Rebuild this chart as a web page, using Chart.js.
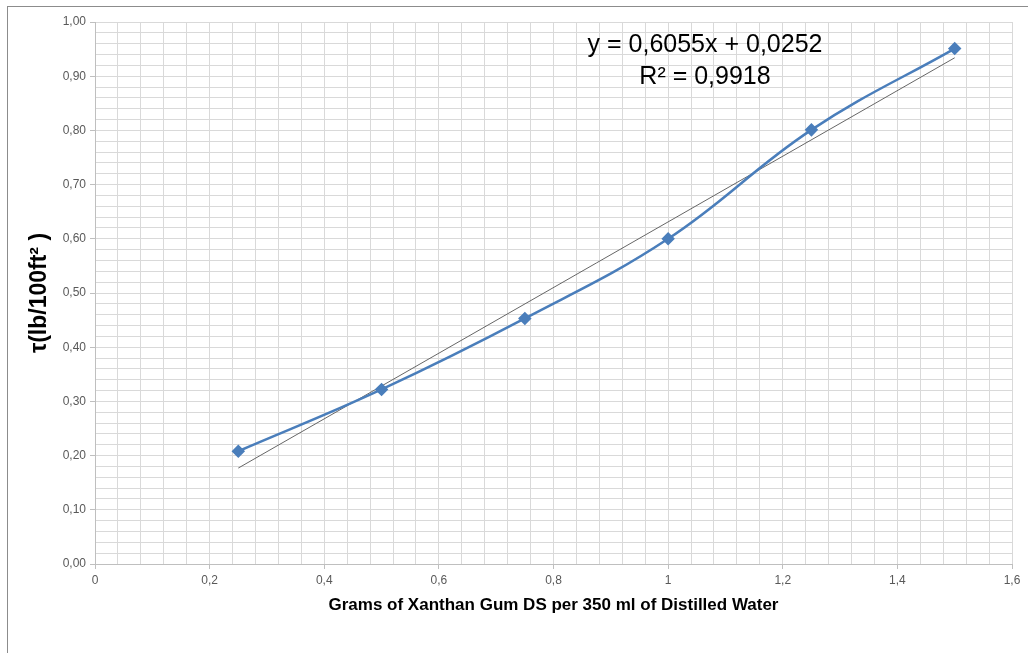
<!DOCTYPE html>
<html>
<head>
<meta charset="utf-8">
<script src="https://cdn.jsdelivr.net/npm/chart.js@4.4.1/dist/chart.umd.min.js"></script>
<style>
  html, body { margin: 0; padding: 0; background: #fff; }
  #wrap { position: relative; width: 1028px; height: 653px; }
  #frame { position: absolute; left: 7px; top: 6px; right: 0; bottom: 0;
           border-left: 1px solid #8c8c8c; border-top: 1px solid #8c8c8c; }
  canvas { position: absolute; left: 0; top: 0; }
</style>
</head>
<body>
<div id="wrap">
  <div id="frame"></div>
  <canvas id="myChart" width="1028" height="653"></canvas>
</div>
<script>
// measured points (grams per 350 ml vs tau)
const grams = [0.25, 0.5, 0.75, 1.0, 1.25, 1.5];
const tau = [0.208, 0.322, 0.453, 0.600, 0.801, 0.951];

// linear trendline endpoints (y = 0,6055x + 0,0252)
const trendX = [0.25, 1.5];
const trendY = [0.177, 0.934];

const equationLines = ["y = 0,6055x + 0,0252", "R\u00b2 = 0,9918"];

const isMajor = (v, step) => Math.abs(v / step - Math.round(v / step)) < 1e-6;

// draws the trendline equation text
const equationPlugin = {
  id: 'equation',
  afterDraw(chart) {
    const c = chart.ctx;
    c.save();
    c.font = '25px "Liberation Sans", Arial, sans-serif';
    c.fillStyle = '#000';
    c.textAlign = 'center';
    c.textBaseline = 'middle';
    c.fillText(equationLines[0], 705, 45);
    c.fillText(equationLines[1], 705, 77);
    c.restore();
  }
};

var context = document.getElementById("myChart").getContext('2d');
var myChart = new Chart(context, {
  type: 'scatter',
  data: {
    datasets: [{
      label: 'tau',
      data: grams.map((g, i) => ({x: g, y: tau[i]})),
      showLine: true,
      tension: 0.4,
      borderColor: '#4a7ebb',
      backgroundColor: '#4a7ebb',
      borderWidth: 2.5,
      pointStyle: 'rectRot',
      pointRadius: 5,
      pointHoverRadius: 5,
      order: 1
    }, {
      label: 'trend',
      data: trendX.map((t, i) => ({x: t, y: trendY[i]})),
      showLine: true,
      borderColor: '#666666',
      borderWidth: 1,
      pointRadius: 0,
      order: 2
    }]
  },
  options: {
    responsive: false,
    animation: false,
    layout: { padding: { left: 0, right: 16, top: 22, bottom: 33 } },
    plugins: { legend: { display: false }, tooltip: { enabled: false } },
    scales: {
      x: {
        type: 'linear',
        min: 0,
        max: 1.6,
        afterFit(scale) { scale.height = 56; },
        ticks: {
          stepSize: 0.04,
          autoSkip: false,
          maxRotation: 0,
          padding: 4,
          color: '#595959',
          font: { family: '"Liberation Sans", Arial, sans-serif', size: 12 },
          callback: v => isMajor(v, 0.2) ? String(Number(v.toFixed(1))).replace('.', ',') : ''
        },
        grid: {
          color: '#d9d9d9',
          tickLength: 5,
          tickColor: ctx => (ctx.tick && isMajor(ctx.tick.value, 0.2)) ? '#bfbfbf' : 'rgba(0,0,0,0)'
        },
        border: { color: '#bfbfbf' },
        title: {
          display: true,
          text: 'Grams of Xanthan Gum DS per 350 ml of Distilled Water',
          color: '#000',
          font: { family: '"Liberation Sans", Arial, sans-serif', size: 17, weight: 'bold' },
          padding: { top: 0, bottom: 4 }
        }
      },
      y: {
        type: 'linear',
        min: 0,
        max: 1,
        afterFit(scale) { scale.width = 95; },
        ticks: {
          stepSize: 0.02,
          autoSkip: false,
          padding: 4,
          color: '#595959',
          font: { family: '"Liberation Sans", Arial, sans-serif', size: 12 },
          callback: v => isMajor(v, 0.1) ? v.toFixed(2).replace('.', ',') : ''
        },
        grid: {
          color: '#d9d9d9',
          tickLength: 5,
          tickColor: ctx => (ctx.tick && isMajor(ctx.tick.value, 0.1)) ? '#bfbfbf' : 'rgba(0,0,0,0)'
        },
        border: { color: '#bfbfbf' },
        title: {
          display: true,
          text: '\u03c4(lb/100ft\u00b2 )',
          color: '#000',
          font: { family: '"Liberation Sans", Arial, sans-serif', size: 23, weight: 'bold' },
          padding: { top: 26, bottom: 0 }
        }
      }
    }
  },
  plugins: [equationPlugin]
});
</script>
</body>
</html>
